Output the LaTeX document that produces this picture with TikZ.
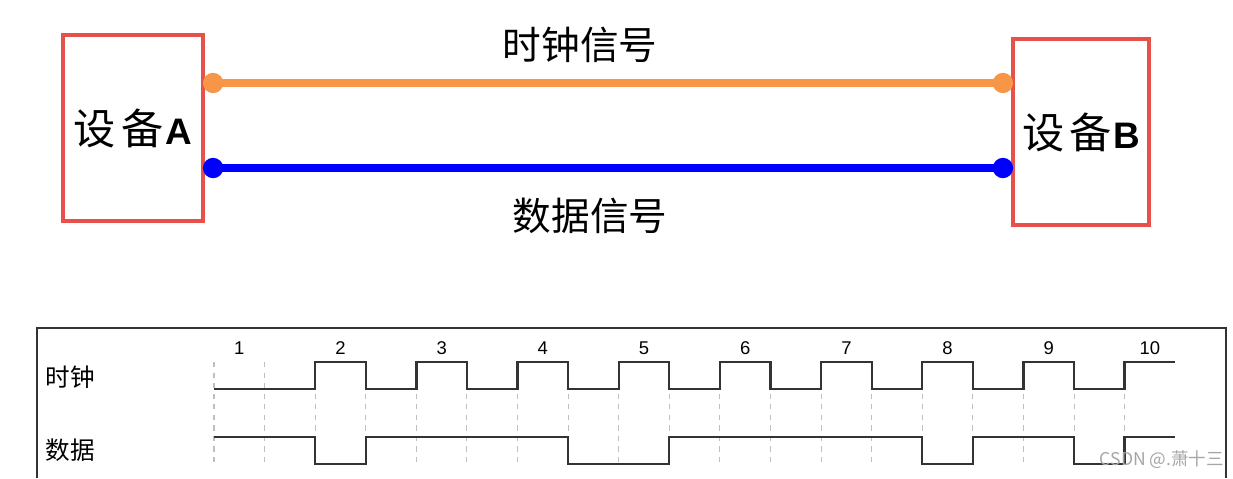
\documentclass[tikz,border=0pt]{standalone}
\usepackage{fontspec}
\setmainfont{Liberation Sans}
\newfontfamily\cjk{Noto Sans CJK SC}
\usetikzlibrary{arrows.meta}
\definecolor{boxred}{HTML}{E8504A}
\definecolor{clkorange}{HTML}{F79646}
\definecolor{datblue}{HTML}{0000FF}
\definecolor{wavegray}{HTML}{333333}
\newcommand\devtext[1]{{\cjk 设\hspace{3pt}备}\hspace{1pt}{\fontsize{21}{23}\selectfont\bfseries #1}}
\tikzset{
  every picture/.style={line join=miter, >=Stealth},
  device/.style={draw=boxred, line width=2.3pt, outer sep=0pt, inner sep=0pt, font=\fontsize{24}{27}\selectfont},
  busline/.style={line width=5pt, arrows={Circle[length=11.5pt,width=11.5pt]-Circle[length=11.5pt,width=11.5pt]}},
  biglabel/.style={font=\cjk\fontsize{22}{26}\selectfont, inner sep=0pt},
  siglabel/.style={font=\cjk\fontsize{14}{16}\selectfont, inner sep=0pt},
  cyclenum/.style={font=\fontsize{10.5}{12}\selectfont, inner sep=0pt},
  wave/.style={draw=wavegray, line width=1.3pt},
  gridline/.style={draw=gray!50, line width=0.6pt, dash pattern=on 3pt off 3pt},
  frame/.style={draw=wavegray, line width=1.1pt},
  watermark/.style={font=\cjk\fontsize{10}{12}\selectfont, text=gray!70, inner sep=0pt},
}

\begin{document}
\begin{tikzpicture}[x=0.02cm,y=-0.02cm]
\useasboundingbox (0,0) rectangle (1233,478);
\node[device, minimum width=2.8cm, minimum height=3.72cm] (devA) at (133,128) {\devtext{A}};
\node[device, minimum width=2.72cm, minimum height=3.72cm] (devB) at (1081,132) {\devtext{B}};
\coordinate (clkY) at (600,83);
\coordinate (datY) at (600,168);
\draw[busline, clkorange] (devA.east |- clkY) -- (devB.west |- clkY);
\draw[busline, datblue] (devA.east |- datY) -- (devB.west |- datY);
\node[biglabel] (clkname) at (580,45) {时钟信号};
\node[biglabel] (datname) at (590,216) {数据信号};

\draw[frame] (37,478) -- (37,328) -- (1226,328) -- (1226,478);
\node[siglabel] (clklabel) at (70,377) {时钟};
\node[siglabel] (datlabel) at (70,450) {数据};
\begin{scope}[shift={(214,0)}, x=1.012cm]
\foreach \k in {0,...,18} \draw[gridline] (\k,362) -- (\k,464);
\foreach \n in {1,...,10} \node[cyclenum] (c\n) at ({2*\n-1.5},348) {\n};
\draw[wave] (0,389) -- (2,389) \foreach \k in {2,4,...,16} {-- (\k,362) -- (\k+1,362) -- (\k+1,389) -- (\k+2,389)} -- (18,362) -- (19,362);
\draw[wave] (0,437) -- (2,437) -- (2,464) -- (3,464) -- (3,437) -- (7,437) -- (7,464) -- (9,464) -- (9,437) -- (14,437) -- (14,464) -- (15,464) -- (15,437) -- (17,437) -- (17,464) -- (18,464) -- (18,437) -- (19,437);
\end{scope}
\node[watermark] (mark) at (1162,460) {CSDN @.萧十三};
\end{tikzpicture}
\end{document}
